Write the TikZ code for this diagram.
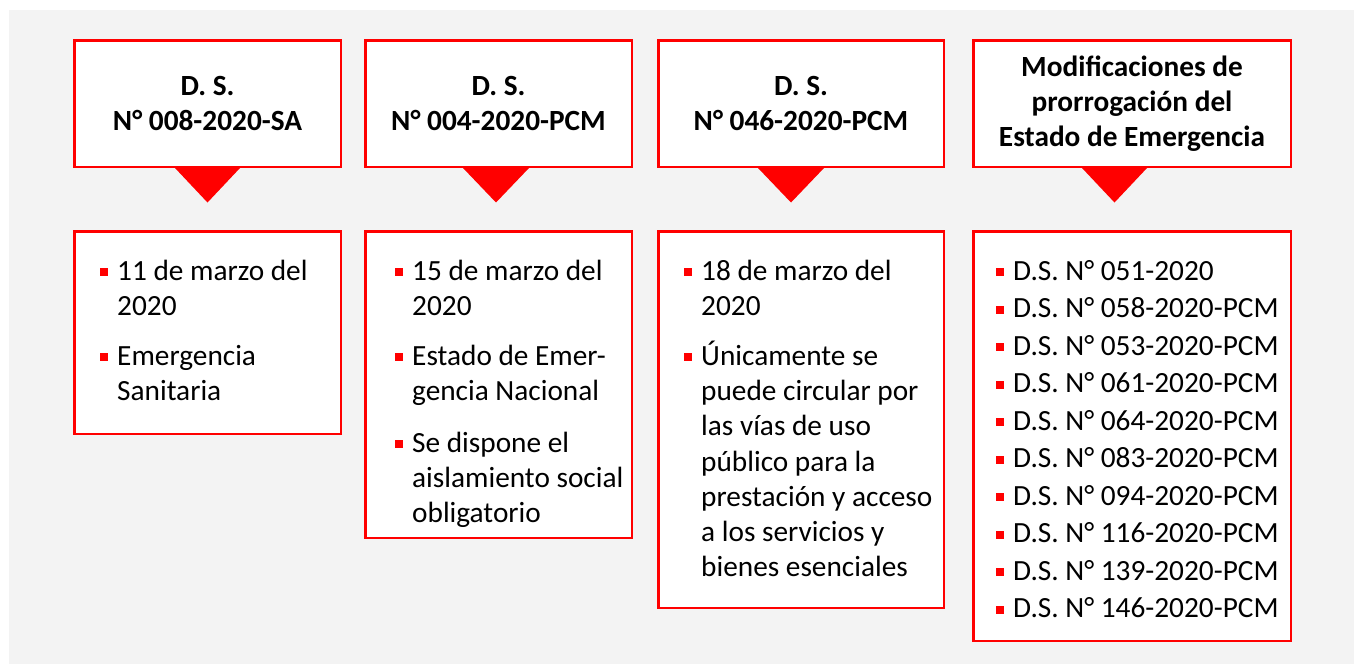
\documentclass[tikz,border=0pt]{standalone}
\usepackage{fontspec}
\setmainfont{Carlito}
\definecolor{bg}{HTML}{F3F3F3}
\definecolor{brd}{HTML}{FF0000}
\tikzset{
  hdr/.style={draw=brd, line width=2.5pt, fill=white, align=center,
    font=\fontsize{29.3}{35}\selectfont\bfseries, inner sep=0pt,
    minimum height=126.5pt},
  card/.style={draw=brd, line width=2.5pt, fill=white, inner sep=0pt, anchor=north},
  txt/.style={inner sep=0pt, anchor=base west},
  tip/.style={fill=brd},
}
\newcommand{\bul}{\leavevmode\llap{\textcolor{brd}{\rule[4pt]{8pt}{8pt}}\hspace{9pt}}}
\newcommand{\lst}[2]{\parbox[t]{300pt}{\fontsize{29.3}{#1}\selectfont\raggedright #2}}
\begin{document}
\begin{tikzpicture}[x=1pt,y=-1pt]
\useasboundingbox (0,0) rectangle (1354,664);
\fill[bg] (9,10) rectangle (1354,664);

% headers
\node[hdr, minimum width=266.5pt] (h1) at (207.5,103.5) {D. S.\\N° 008-2020-SA};
\node[hdr, minimum width=266.5pt] (h2) at (498.5,103.5) {D. S.\\N° 004-2020-PCM};
\node[hdr, minimum width=285.5pt] (h3) at (801,103.5) {D. S.\\N° 046-2020-PCM};
\node[hdr, minimum width=317.5pt] (h4) at (1132,103.5) {Modificaciones de\\prorrogación del\\Estado de Emergencia};

% pointers
\fill[tip] ([xshift=-32.5pt]h1.south) -- ([xshift=32.5pt]h1.south) -- ([yshift=-34.5pt]h1.south) -- cycle;
\fill[tip] ([xshift=-35.5pt]h2.south) -- ([xshift=30.5pt]h2.south) -- ([xshift=-2.5pt,yshift=-34.5pt]h2.south) -- cycle;
\fill[tip] ([xshift=-43pt]h3.south) -- ([xshift=23pt]h3.south) -- ([xshift=-10pt,yshift=-34.5pt]h3.south) -- cycle;
\fill[tip] ([xshift=-50pt]h4.south) -- ([xshift=15pt]h4.south) -- ([xshift=-17.5pt,yshift=-34.5pt]h4.south) -- cycle;

% cards
\node[card, minimum width=266.5pt, minimum height=202.5pt] (c1) at (207.5,230) {};
\node[card, minimum width=266.5pt, minimum height=306.5pt] (c2) at (498.5,230) {};
\node[card, minimum width=285.5pt, minimum height=376.5pt] (c3) at (801,230) {};
\node[card, minimum width=317.5pt, minimum height=409.5pt] (c4) at (1132,230) {};

% texts
\node[txt] (t1) at (117,280) {\lst{35}{\bul 11 de marzo del\\2020\\[15pt]\bul Emergencia\\Sanitaria}};
\node[txt] (t2) at (412,280) {\lst{35}{\bul 15 de marzo del\\2020\\[15pt]\bul Estado de Emer-\\gencia Nacional\\[17pt]\bul Se dispone el\\aislamiento social\\obligatorio}};
\node[txt] (t3) at (701,280) {\lst{35.2}{\bul 18 de marzo del\\2020\\[15pt]\bul Únicamente se\\puede circular por\\las vías de uso\\público para la\\prestación y acceso\\a los servicios y\\bienes esenciales}};
\node[txt] (t4) at (1013,280) {\lst{37.5}{\bul D.S. N° 051-2020\\\bul D.S. N° 058-2020-PCM\\\bul D.S. N° 053-2020-PCM\\\bul D.S. N° 061-2020-PCM\\\bul D.S. N° 064-2020-PCM\\\bul D.S. N° 083-2020-PCM\\\bul D.S. N° 094-2020-PCM\\\bul D.S. N° 116-2020-PCM\\\bul D.S. N° 139-2020-PCM\\\bul D.S. N° 146-2020-PCM}};
\end{tikzpicture}
\end{document}
